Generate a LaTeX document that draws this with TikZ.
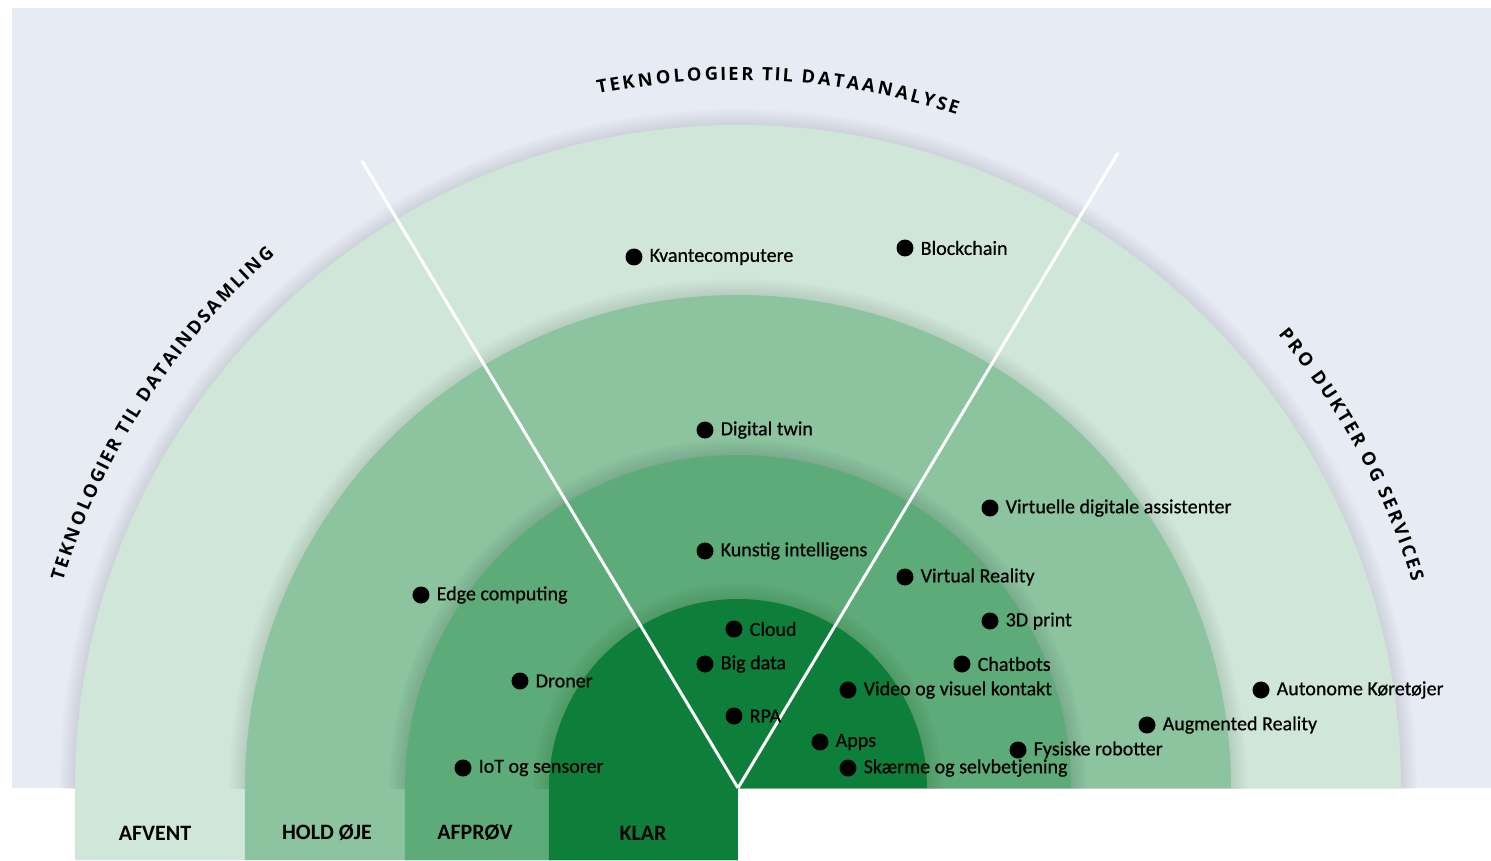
\documentclass[tikz,border=0pt]{standalone}
\usepackage{fontspec}
\usepackage{tikz}
\usetikzlibrary{decorations.text}
\newfontfamily\itemfont[FakeBold=0.6]{Carlito}
\newfontfamily\stagefont{Carlito Bold}
\newfontfamily\headfont{Open Sans Bold}
\definecolor{bgblue}{HTML}{E7EBF3}
\definecolor{ringA}{HTML}{D0E6D9}
\definecolor{ringB}{HTML}{8BC49E}
\definecolor{ringC}{HTML}{5DAB78}
\definecolor{ringD}{HTML}{0E7F3A}

\begin{document}
\begin{tikzpicture}[x=0.02cm, y=0.02cm,
    tech/.style={circle, fill=black, minimum size=0.34cm, inner sep=0pt,
      label={[font=\itemfont\fontsize{11.4}{13}\selectfont, inner sep=0pt, label distance=0.13cm]right:#1}},
    stage/.style={font=\stagefont\fontsize{12.5}{14}\selectfont},
    divider/.style={white, line width=1.7pt},
    heading/.style={decorate, decoration={text effects along path, text={#1},
      text effects/.cd, text along path,
      characters={text along path, font=\headfont\fontsize{10.4}{12}\selectfont},
      fit text to path}}]
  \useasboundingbox (-738,-72) rectangle (753,788);
  \fill[bgblue] (-726,0) rectangle (753,780);
  % rings, outer to inner, each with a soft shadow
  \foreach \r/\c in {663/ringA, 493/ringB, 333/ringC, 189/ringD} {
    \begin{scope}
      \clip (-738,0) rectangle (753,788);
      \foreach \k in {1,...,8}
        \fill[black, opacity=0.012] (0,0) circle[radius=\r+2*\k];
    \end{scope}
    \fill[\c] (0,-72) -- (-\r,-72) -- (-\r,0) arc[start angle=180, end angle=0, radius=\r] -- (0,0) -- cycle;
  }
  % sector lines
  \coordinate (hub) at (0,0);
  \coordinate (ltip) at (-376,627);
  \coordinate (rtip) at (380,635);
  \draw[divider] (hub) -- (ltip);
  \draw[divider] (hub) -- (rtip);
  % headings
  \path[heading={TEKNOLOGIER TIL DATAANALYSE}] (101.4:708) arc[start angle=101.4, end angle=72, radius=708];
  \path[heading={TEKNOLOGIER TIL DATAINDSAMLING}] (163:706) arc[start angle=163, end angle=131, radius=706];
  \path[heading={PRO DUKTER OG SERVICES}] (40:705) arc[start angle=40, end angle=17, radius=705];
  % technologies
  \node[tech=Kvantecomputere] (kvante) at (-104,531) {};
  \node[tech=Blockchain] (block) at (167,540) {};
  \node[tech=Digital twin] (twin) at (-33,358) {};
  \node[tech=Virtuelle digitale assistenter] (assist) at (252,280) {};
  \node[tech=Kunstig intelligens] (ai) at (-33,237) {};
  \node[tech=Virtual Reality] (vr) at (167,211) {};
  \node[tech=Edge computing] (edge) at (-317,193) {};
  \node[tech=3D print] (print) at (252,167) {};
  \node[tech=Cloud] (cloud) at (-4,159) {};
  \node[tech=Big data] (bigdata) at (-33,124) {};
  \node[tech=Chatbots] (chat) at (224,124) {};
  \node[tech=Droner] (droner) at (-218,107) {};
  \node[tech=Video og visuel kontakt] (video) at (110,98) {};
  \node[tech=Autonome Køretøjer] (auto) at (523,98) {};
  \node[tech=RPA] (rpa) at (-4,72) {};
  \node[tech=Augmented Reality] (ar) at (409,63) {};
  \node[tech=Apps] (apps) at (82,46) {};
  \node[tech=Fysiske robotter] (robot) at (280,38) {};
  \node[tech=IoT og sensorer] (iot) at (-275,20) {};
  \node[tech=Skærme og selvbetjening] (skaerm) at (110,20) {};
  % stages
  \node[stage] (afvent) at (-583,-45) {AFVENT};
  \node[stage] (hold) at (-411,-45) {HOLD ØJE};
  \node[stage] (afprov) at (-263,-45) {AFPRØV};
  \node[stage] (klar) at (-95,-45) {KLAR};
\end{tikzpicture}
\end{document}
